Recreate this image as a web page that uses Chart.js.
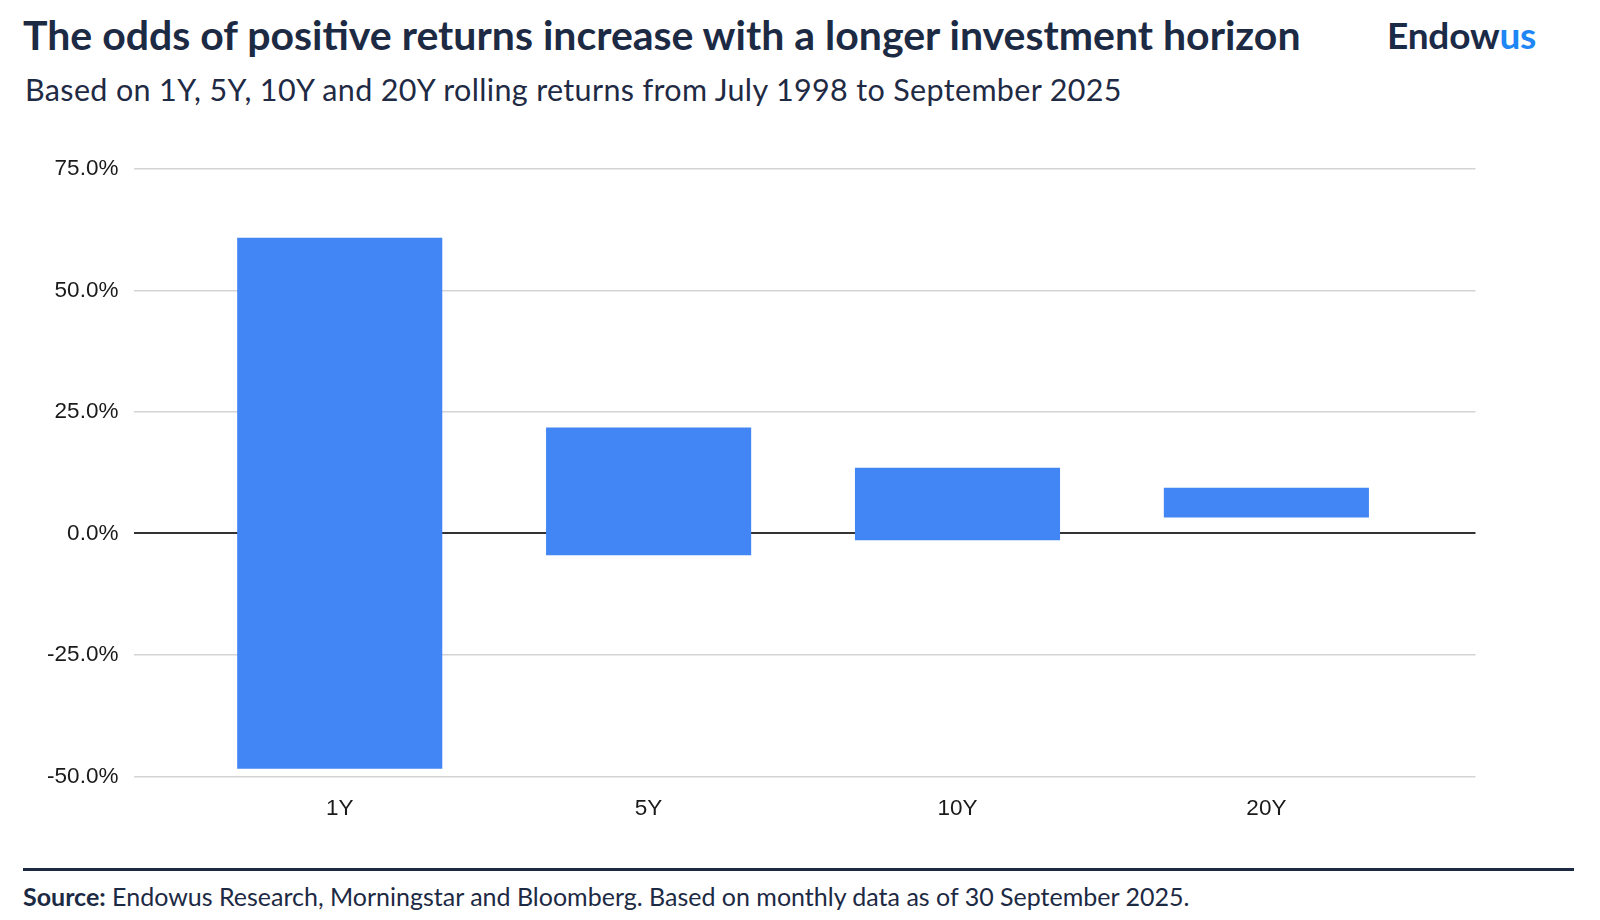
<!DOCTYPE html>
<html><head><meta charset="utf-8">
<script src="https://cdn.jsdelivr.net/npm/chart.js@4/dist/chart.umd.min.js"></script>
<style>
html,body{margin:0;padding:0;background:#fff}
body{width:1600px;height:920px;position:relative;overflow:hidden;font-family:Lato,"Noto Sans",sans-serif;color:#1d2a44}
#title{position:absolute;left:23px;top:10px;font-size:41px;line-height:normal;font-weight:700;white-space:nowrap}
#subtitle{position:absolute;left:25px;top:71px;font-size:30.5px;line-height:normal;font-weight:400;white-space:nowrap;letter-spacing:0.35px;color:#1f2a44}
#logo{position:absolute;left:1387px;top:12px;font-size:37px;line-height:normal;font-weight:700;white-space:nowrap;letter-spacing:-0.2px;color:#1b2a47}
#logo span{color:#1e86f5}
#wrap{position:absolute;left:0;top:140px;width:1530px;height:720px}
#rule{position:absolute;left:23px;top:868px;width:1551px;height:2.5px;background:#1d2a44}
#source{position:absolute;left:23px;top:881px;font-size:25px;line-height:normal;white-space:nowrap;color:#1d2a44}
</style></head>
<body>
<div id="title">The odds of positive returns increase with a longer investment horizon</div>
<div id="subtitle">Based on 1Y, 5Y, 10Y and 20Y rolling returns from July 1998 to September 2025</div>
<div id="logo">Endow<span>us</span></div>
<div id="wrap"><canvas id="c"></canvas></div>
<div id="rule"></div>
<div id="source"><b>Source:</b> Endowus Research, Morningstar and Bloomberg. Based on monthly data as of 30 September 2025.</div>
<script>
const categories = ["1Y", "5Y", "10Y", "20Y"];
const worstReturns = [-48.4, -4.5, -1.4, 3.3];
const bestReturns = [60.8, 21.8, 13.5, 9.4];
const yTicks = [-50, -25, 0, 25, 50, 75];

const points = categories.map((c, i) => ({x: i, y: [worstReturns[i], bestReturns[i]]}));

new Chart(document.getElementById('c'), {
  type: 'bar',
  data: {
    datasets: [{
      label: 'Rolling return range',
      data: points,
      backgroundColor: '#4285F4',
      borderWidth: 0,
      barPercentage: 0.664,
      categoryPercentage: 1.0
    }]
  },
  options: {
    responsive: true,
    maintainAspectRatio: false,
    animation: false,
    layout: {padding: {left: 0, right: 54.5, top: 27.3, bottom: 0}},
    plugins: {legend: {display: false}, tooltip: {enabled: false}},
    scales: {
      x: {
        type: 'linear',
        offset: false,
        min: -0.667,
        max: 3.677,
        grid: {display: false},
        border: {display: false},
        afterBuildTicks: s => { s.ticks = categories.map((c, i) => ({value: i})); },
        afterFit: s => { s.height = 83.5; },
        ticks: {
          callback: v => categories[v],
          color: '#1a1a1a',
          font: {family: '"Liberation Sans", Arial, sans-serif', size: 22.5},
          padding: 11,
          maxRotation: 0,
          autoSkip: false
        }
      },
      y: {
        min: yTicks[0],
        max: yTicks[yTicks.length - 1],
        afterBuildTicks: s => { s.ticks = yTicks.map(v => ({value: v})); },
        afterFit: s => { s.width = 133.7; },
        border: {display: false},
        grid: {
          drawTicks: false,
          color: ctx => ctx.tick && ctx.tick.value === 0 ? '#333333' : '#d4d4d4',
          lineWidth: ctx => ctx.tick && ctx.tick.value === 0 ? 2 : 1.5
        },
        ticks: {
          callback: v => v.toFixed(1) + '%',
          color: '#1a1a1a',
          font: {family: '"Liberation Sans", Arial, sans-serif', size: 22.5},
          padding: 15.3
        }
      }
    }
  }
});
</script>
</body></html>
